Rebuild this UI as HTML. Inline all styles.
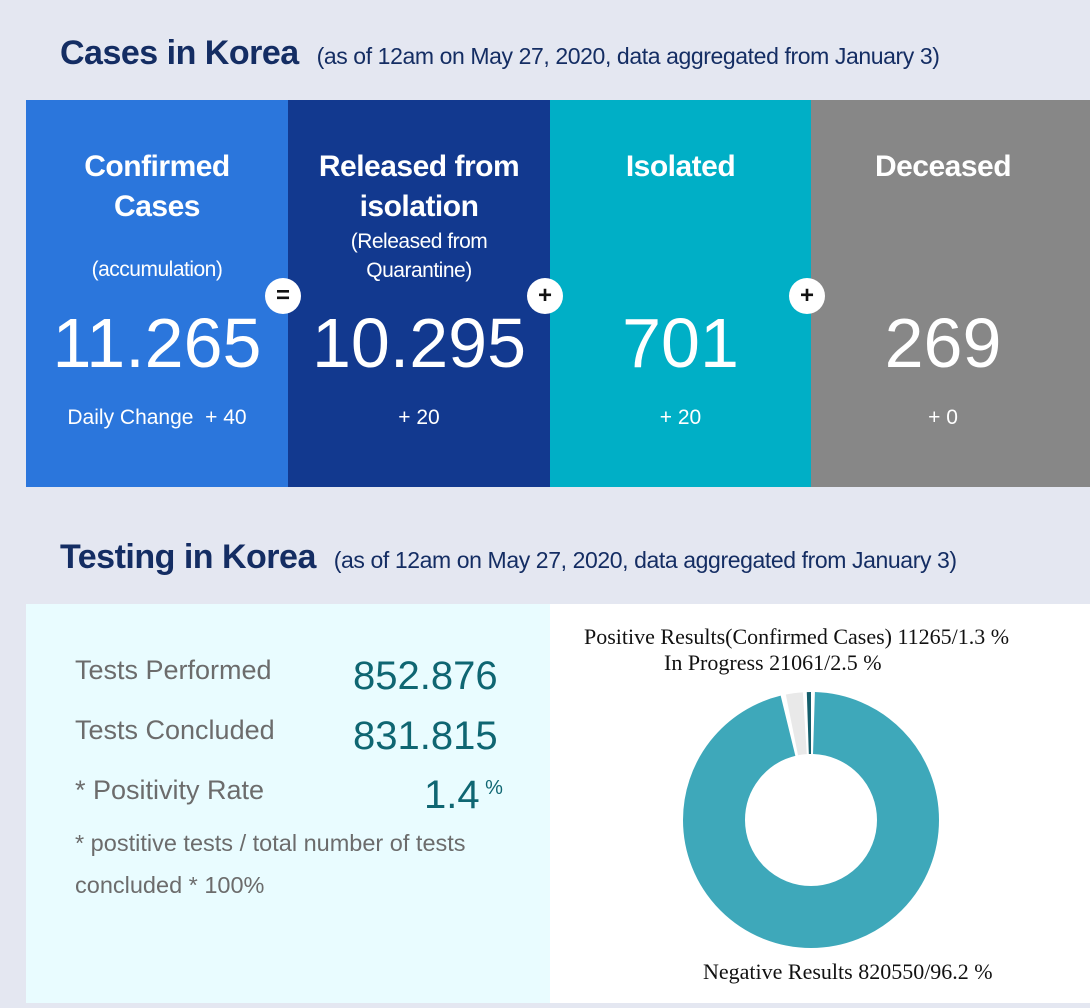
<!DOCTYPE html>
<html><head><meta charset="utf-8"><style>
body{margin:0;width:1090px;height:1008px;background:#e4e7f1;font-family:"Liberation Sans",sans-serif;position:relative;overflow:hidden}
.a{position:absolute}
h1{position:absolute;margin:0;font-size:34px;color:#142d63;font-weight:bold;letter-spacing:-0.5px}
h1 span{font-size:23px;font-weight:normal;letter-spacing:-0.4px}
.p{position:absolute;top:100px;height:387px;color:#fff;text-align:center}
.t{position:absolute;left:0;right:0;top:47px;font-size:30px;font-weight:bold;line-height:40px;letter-spacing:-0.5px}
.s{font-size:21px;line-height:29px;font-weight:normal}
.n{position:absolute;left:0;right:0;top:203px;font-size:70px;line-height:80px;font-weight:300}
.d{position:absolute;left:0;right:0;top:306px;font-size:21px}
.c{position:absolute;width:36px;height:36px;border-radius:50%;background:#fff;color:#111;font-weight:bold;font-size:24px;text-align:center;line-height:35px;top:278px}
.l{position:absolute;font-size:27px;color:#6c6c6c}
.v{position:absolute;font-size:40px;color:#0f6672}
.sf{position:absolute;font-family:'Liberation Serif',serif;font-size:22px;color:#111;white-space:nowrap}
</style></head><body>
<h1 style="left:60px;top:34px">Cases in Korea &nbsp;<span>(as of 12am on May 27, 2020, data aggregated from January 3)</span></h1>
<div class="p" style="left:26px;width:262px;background:#2b76dc"><div class="t">Confirmed<br>Cases<div class="s" style="margin-top:28px">(accumulation)</div></div><div class="n">11.265</div><div class="d">Daily Change &nbsp;+ 40</div></div>
<div class="p" style="left:288px;width:262px;background:#12398f"><div class="t">Released from<br>isolation<div class="s">(Released from<br>Quarantine)</div></div><div class="n">10.295</div><div class="d">+ 20</div></div>
<div class="p" style="left:550px;width:261px;background:#00afc6"><div class="t">Isolated</div><div class="n">701</div><div class="d">+ 20</div></div>
<div class="p" style="left:811px;width:279px;background:#878787"><div class="t" style="left:-15px">Deceased</div><div class="n" style="left:-15px">269</div><div class="d" style="left:-15px">+ 0</div></div>
<div class="c" style="left:265px">=</div>
<div class="c" style="left:527px">+</div>
<div class="c" style="left:789px">+</div>
<h1 style="left:60px;top:538px">Testing in Korea &nbsp;<span>(as of 12am on May 27, 2020, data aggregated from January 3)</span></h1>
<div class="a" style="left:26px;top:604px;width:524px;height:399px;background:#e9fcff"></div>
<div class="a" style="left:550px;top:604px;width:540px;height:399px;background:#fff"></div>
<div class="l" style="left:75px;top:655px">Tests Performed</div><div class="v" style="left:353px;top:654px">852.876</div>
<div class="l" style="left:75px;top:715px">Tests Concluded</div><div class="v" style="left:353px;top:714px">831.815</div>
<div class="l" style="left:75px;top:775px">* Positivity Rate</div><div class="v" style="left:424px;top:773px">1.4<span style="font-size:20px;vertical-align:top;position:relative;top:4px"> %</span></div>
<div class="l" style="left:75px;top:822px;font-size:23.5px;line-height:42px">* postitive tests / total number of tests<br>concluded * 100%</div>
<div class="sf" style="left:584px;top:624px">Positive Results(Confirmed Cases) 11265/1.3 %</div>
<div class="sf" style="left:664px;top:650px">In Progress 21061/2.5 %</div>
<div class="sf" style="left:703px;top:959px">Negative Results 820550/96.2 %</div>
<svg class="a" style="left:0;top:0" width="1090" height="1008">
<g transform="translate(811,820) rotate(-90)">
<circle r="97" fill="none" stroke="#3ea8ba" stroke-width="62" stroke-dasharray="583 40" stroke-dashoffset="-3"/>
<circle r="97" fill="none" stroke="#e9e9e9" stroke-width="62" stroke-dasharray="0 590 13 100"/>
<circle r="97" fill="none" stroke="#155e6b" stroke-width="62" stroke-dasharray="0 606 4 100"/>
</g>
</svg>
</body></html>
